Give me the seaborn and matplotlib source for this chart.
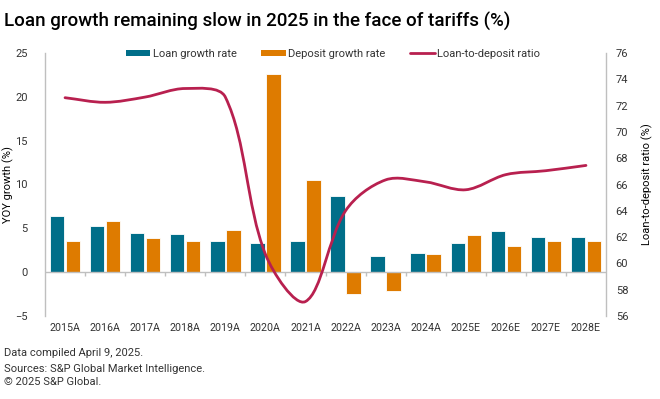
import numpy as np
import pandas as pd
import matplotlib
matplotlib.use("Agg")
import matplotlib.pyplot as plt
import seaborn as sns
from matplotlib.path import Path
from matplotlib.patches import PathPatch, Patch
from matplotlib.lines import Line2D

categories = ["2015A", "2016A", "2017A", "2018A", "2019A", "2020A", "2021A",
              "2022A", "2023A", "2024A", "2025E", "2026E", "2027E", "2028E"]
loan_growth = [6.4, 5.3, 4.5, 4.4, 3.6, 3.3, 3.5, 8.7, 1.8, 2.2, 3.3, 4.7, 4.0, 4.0]
deposit_growth = [3.6, 5.8, 3.9, 3.5, 4.8, 22.6, 10.5, -2.5, -2.1, 2.1, 4.2, 3.0, 3.5, 3.5]
ltd_ratio = [72.6, 72.25, 72.65, 73.3, 72.65, 60.7, 57.1, 64.0, 66.35, 66.2, 65.6, 66.75, 67.05, 67.45]
series_names = ["Loan growth rate", "Deposit growth rate", "Loan-to-deposit ratio"]

TEAL = "#006E89"
ORANGE = "#DE7B00"
CRIMSON = "#B8204F"
GRAY = "#BFBFBF"
TXT = "#333333"

sns.set_theme(style="white")
plt.rcParams["font.family"] = ["Roboto", "DejaVu Sans"]

df = pd.DataFrame({
    "cat": categories * 2,
    "series": [series_names[0]] * len(categories) + [series_names[1]] * len(categories),
    "value": loan_growth + deposit_growth,
})

fig = plt.figure(figsize=(6.6, 3.99), dpi=100)
ax = fig.add_axes([45 / 660, 1 - 316 / 399, (606 - 45) / 660, (316 - 53) / 399])

sns.barplot(data=df, x="cat", y="value", hue="series", palette=[TEAL, ORANGE],
            width=0.8, gap=0.1, ax=ax, legend=False, edgecolor="white",
            linewidth=0.6, saturation=1)

n = len(categories)
ax.set_xlim(-0.5, n - 0.5)
ax.set_ylim(-5, 25)
ax.set_yticks(np.arange(-5, 26, 5))
ax.set_xlabel("")
ax.set_ylabel("YOY growth (%)", fontsize=8, color="black")
ax.yaxis.set_label_coords(-0.056, 0.5)
ax.tick_params(axis="y", length=0, pad=12.5, labelsize=8, labelcolor=TXT)
ax.tick_params(axis="x", length=0, pad=5, labelsize=7.7, labelcolor=TXT)
for s in ["top", "bottom", "right"]:
    ax.spines[s].set_visible(False)
ax.spines["left"].set_color(GRAY)
ax.spines["left"].set_linewidth(1)
ax.axhline(0, color=GRAY, lw=1, zorder=1)
bounds = np.arange(n - 1) + 0.5
ax.vlines(bounds, 0, -0.45, color=GRAY, lw=1, zorder=1)

ax2 = ax.twinx()
ax2.set_ylim(56, 76)
ax2.set_yticks(np.arange(56, 77, 2))
ax2.tick_params(axis="y", length=0, pad=7, labelsize=8, labelcolor=TXT)
ax2.set_ylabel("Loan-to-deposit ratio (%)", fontsize=8, color="black")
ax2.yaxis.set_label_coords(1.0624, 0.5)
for s in ["top", "bottom", "left"]:
    ax2.spines[s].set_visible(False)
ax2.spines["right"].set_color(GRAY)
ax2.spines["right"].set_linewidth(1)

# smoothed line (length-weighted Bezier through data points, Excel-style)
xs = np.arange(n, dtype=float)
ys = np.array(ltd_ratio, dtype=float)
T = ax2.transData
D = T.transform(np.column_stack([xs, ys]))
Dext = np.vstack([D[0], D, D[-1]])
verts = [D[0]]
codes = [Path.MOVETO]
for i in range(n - 1):
    p0, p1, p2, p3 = Dext[i], Dext[i + 1], Dext[i + 2], Dext[i + 3]
    l01 = np.linalg.norm(p1 - p0)
    l12 = np.linalg.norm(p2 - p1)
    l23 = np.linalg.norm(p3 - p2)
    w1 = l12 / (l01 + l12) if (l01 + l12) > 0 else 0.5
    w2 = l12 / (l12 + l23) if (l12 + l23) > 0 else 0.5
    c1 = p1 + (p2 - p0) * w1 / 3.0
    c2 = p2 - (p3 - p1) * w2 / 3.0
    verts += [c1, c2, p2]
    codes += [Path.CURVE4] * 3
verts = T.inverted().transform(np.array(verts))
ax2.add_patch(PathPatch(Path(verts, codes), facecolor="none", edgecolor=CRIMSON,
                        lw=2.0, capstyle="round", joinstyle="round", zorder=3))

handles = [Patch(facecolor=TEAL, edgecolor="none"),
           Patch(facecolor=ORANGE, edgecolor="none"),
           Line2D([0], [0], color=CRIMSON, lw=2)]
fig.legend(handles, series_names, loc="center", bbox_to_anchor=(333 / 660, 1 - 54 / 399),
           ncol=3, frameon=False, fontsize=8, handlelength=2.2, handleheight=0.55,
           handletextpad=0.25, columnspacing=2.2, labelcolor=TXT)

fig.text(4 / 660, 1 - 21 / 399, "Loan growth remaining slow in 2025 in the face of tariffs (%)",
         fontsize=13.5, fontweight="medium", color="black", va="center", ha="left")
fig.text(4 / 660, 1 - 353 / 399, "Data compiled April 9, 2025.", fontsize=8,
         color=TXT, va="center", ha="left")
fig.text(4 / 660, 1 - 369 / 399, "Sources: S&P Global Market Intelligence.", fontsize=8,
         color=TXT, va="center", ha="left")
fig.text(4 / 660, 1 - 382 / 399, "\u00a9 2025 S&P Global.", fontsize=8,
         color=TXT, va="center", ha="left")

fig.savefig("out.png", dpi=100)
